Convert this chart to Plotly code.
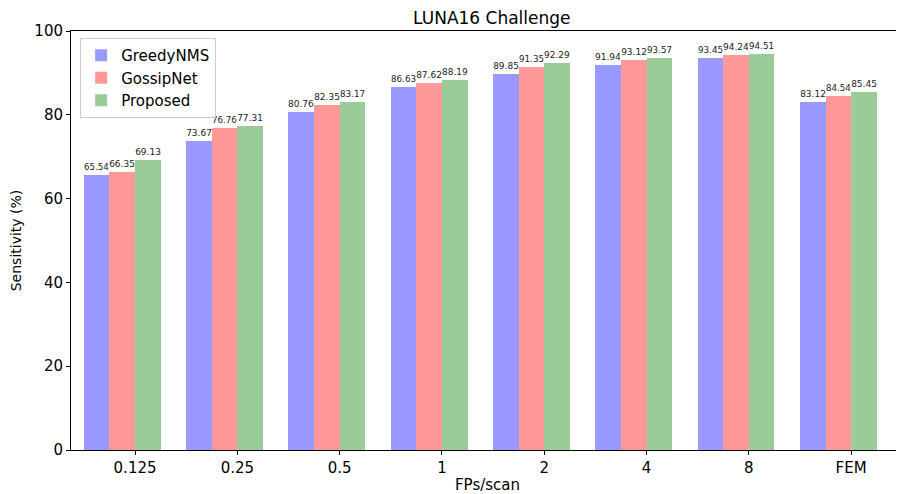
import plotly.graph_objects as go

categories = ["0.125", "0.25", "0.5", "1", "2", "4", "8", "FEM"]
greedy = [65.54, 73.67, 80.76, 86.63, 89.85, 91.94, 93.45, 83.12]
gossip = [66.35, 76.76, 82.35, 87.62, 91.35, 93.12, 94.24, 84.54]
proposed = [69.13, 77.31, 83.17, 88.19, 92.29, 93.57, 94.51, 85.45]

series = [
    ("GreedyNMS", greedy, "rgba(153,153,255,1)", -0.375),
    ("GossipNet", gossip, "rgba(255,153,153,1)", -0.125),
    ("Proposed", proposed, "rgba(153,204,153,1)", 0.125),
]

idx = list(range(len(categories)))
fig = go.Figure()
for name, vals, color, off in series:
    fig.add_trace(go.Bar(
        x=[i + off for i in idx], y=vals, name=name, width=0.25,
        marker=dict(color=color, line=dict(width=0)),
        text=[f"{v:.2f}" for v in vals], textposition="outside",
        textfont=dict(size=9, color="#222"), cliponaxis=False,
    ))

fig.update_layout(
    width=896, height=486,
    margin=dict(l=63, r=0, t=23, b=44, autoexpand=False),
    plot_bgcolor="white", paper_bgcolor="white",
    font=dict(family="DejaVu Sans", size=14, color="black"),
    title=dict(text="LUNA16 Challenge", x=0.540, xanchor="center", y=0.979, yanchor="middle",
               font=dict(size=17)),
    barmode="overlay", bargap=0,
    showlegend=True,
    legend=dict(x=0.011, y=0.983, xanchor="left", yanchor="top",
                bgcolor="rgba(255,255,255,0.8)", bordercolor="#ccc", borderwidth=1,
                font=dict(size=15), tracegroupgap=0, itemwidth=30),
    xaxis=dict(range=[-0.626, 7.517], tickmode="array", tickvals=idx, ticktext=categories,
               showline=True, linecolor="black", linewidth=1, mirror=True, automargin=False,
               ticks="outside", ticklen=4, tickcolor="black", showgrid=False,
               tickfont=dict(size=15),
               zeroline=False, title=dict(text="FPs/scan", standoff=5, font=dict(size=15))),
    yaxis=dict(range=[0, 100], tickvals=[0, 20, 40, 60, 80, 100], automargin=False,
               showline=True, linecolor="black", linewidth=1,
               ticks="outside", ticklen=4, tickcolor="black", showgrid=False,
               tickfont=dict(size=15),
               zeroline=False, title=dict(text="Sensitivity (%)", standoff=9, font=dict(size=14))),
)
fig.write_html("out.html")
